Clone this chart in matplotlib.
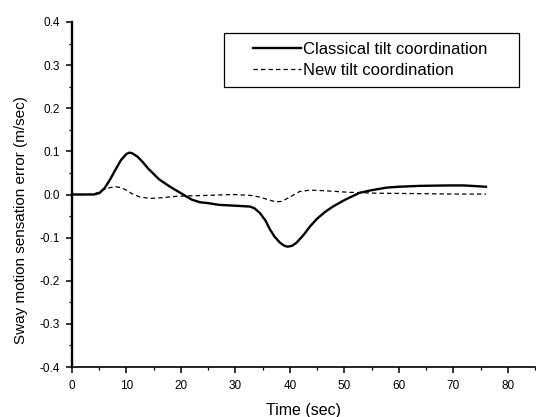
import matplotlib
matplotlib.use("Agg")
import matplotlib.pyplot as plt
from matplotlib.ticker import MultipleLocator
from matplotlib.patches import Rectangle

plt.rcParams['font.family'] = ['Liberation Sans', 'DejaVu Sans']

t_classical = [0, 2, 4, 5, 6, 7, 8, 9, 10, 10.5, 11, 12, 13, 14, 16, 18, 20, 22, 23.5, 25, 27, 30, 32.7, 33.5, 34.5, 35.5, 36.3, 37.2, 38.2, 39, 39.6, 40.4, 41.2, 42.5, 43.7, 45, 46.5, 47.9, 50, 52.8, 55, 57.8, 60, 63.8, 68.8, 72, 76]
v_classical = [0, 0, 0, 0.003, 0.015, 0.035, 0.058, 0.080, 0.094, 0.097, 0.096, 0.088, 0.075, 0.060, 0.035, 0.018, 0.003, -0.012, -0.018, -0.020, -0.024, -0.026, -0.028, -0.032, -0.043, -0.060, -0.080, -0.098, -0.112, -0.119, -0.121, -0.119, -0.112, -0.094, -0.074, -0.056, -0.040, -0.028, -0.013, 0.004, 0.010, 0.016, 0.018, 0.020, 0.021, 0.021, 0.018]

t_new = [0, 2, 4, 5, 6, 7, 8, 9, 10, 11, 12.5, 14.3, 16, 19.3, 22, 25, 29.5, 32.7, 34.5, 36, 37.4, 38.5, 40, 41.8, 43.7, 46, 51, 56, 63.8, 70, 76]
v_new = [0, 0, 0.001, 0.006, 0.012, 0.016, 0.018, 0.016, 0.010, 0.002, -0.006, -0.009, -0.008, -0.004, -0.003, -0.002, 0.000, -0.002, -0.006, -0.012, -0.017, -0.016, -0.006, 0.007, 0.010, 0.009, 0.005, 0.003, 0.002, 0.001, 0.001]

x_ticks = [0, 10, 20, 30, 40, 50, 60, 70, 80]
y_ticks = [-0.4, -0.3, -0.2, -0.1, 0.0, 0.1, 0.2, 0.3, 0.4]

W, H = 536, 417
fig = plt.figure(figsize=(W / 100, H / 100), dpi=100)
L, R, T, B = 72, 535, 22, 367
ax = fig.add_axes([L / W, (H - B) / H, (R - L) / W, (B - T) / H])

def axx(px):
    return (px - L) / (R - L)

def axy(py):
    return (B - py) / (B - T)

ax.plot(t_classical, v_classical, color='black', lw=1.7, label='Classical tilt coordination')
ax.plot(t_new, v_new, color='black', lw=0.9, ls=(0, (3.5, 2.5)), label='New tilt coordination')

ax.set_xlim(0, 85)
ax.set_ylim(-0.4, 0.4)
ax.set_xticks(x_ticks)
ax.set_xticklabels([str(v) for v in x_ticks])
ax.set_yticks(y_ticks)
ax.set_yticklabels([f"{v:.1f}" for v in y_ticks])
ax.xaxis.set_minor_locator(MultipleLocator(5))
ax.yaxis.set_minor_locator(MultipleLocator(0.05))
ax.tick_params(axis='both', which='major', direction='out', length=4.5, width=1.1, labelsize=8.5)
ax.tick_params(axis='x', which='major', pad=5)
ax.tick_params(axis='y', which='major', pad=4)
ax.tick_params(axis='both', which='minor', direction='out', length=2.5, width=0.9)

for s in ['top', 'right']:
    ax.spines[s].set_visible(False)
ax.spines['left'].set_linewidth(1.7)
ax.spines['bottom'].set_linewidth(1.2)

ax.set_xlabel('Time (sec)', fontsize=11.5)
ax.set_ylabel('Sway motion sensation error (m/sec)', fontsize=11)
ax.xaxis.set_label_coords(axx(303), axy(403))
ax.yaxis.set_label_coords(axx(28), axy(220))

ax.add_patch(Rectangle((axx(224), axy(87)), axx(519) - axx(224), axy(33) - axy(87),
                       transform=ax.transAxes, fill=False, edgecolor='black', lw=0.9,
                       clip_on=False, zorder=3))
leg = ax.legend(loc='upper left', bbox_to_anchor=(axx(253), axy(42)), fontsize=12,
                frameon=False, handlelength=2.9, handletextpad=0.08, borderpad=0,
                labelspacing=0.35, borderaxespad=0)

fig.savefig('out.png', dpi=100)
